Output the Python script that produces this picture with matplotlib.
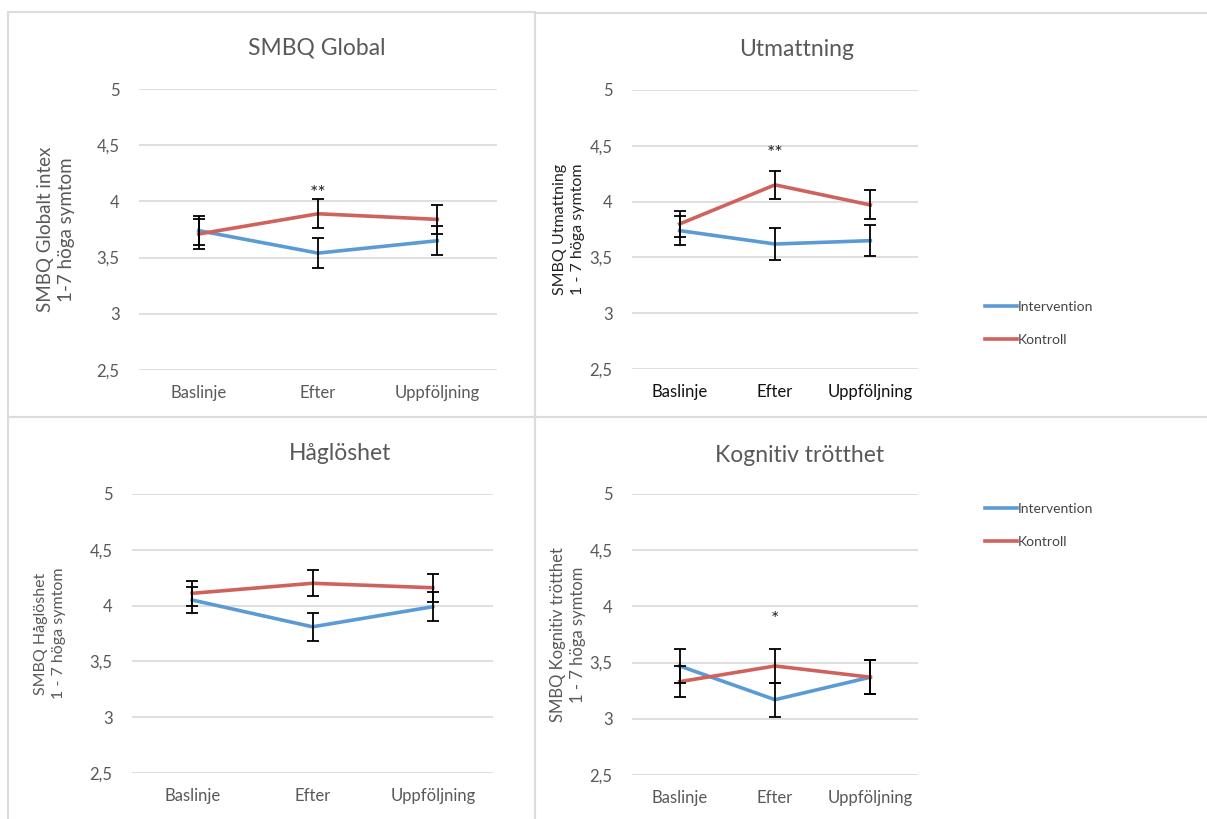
"""
SMBQ panels: intervention vs kontroll over three time points
"""
import matplotlib.pyplot as plt
from matplotlib.lines import Line2D
from matplotlib.patches import Rectangle

plt.rcParams['font.family'] = ['Lato', 'DejaVu Sans']

categories = ['Baslinje', 'Efter', 'Uppföljning']
yticks = [2.5, 3, 3.5, 4, 4.5, 5]
ytick_labels = ['2,5', '3', '3,5', '4', '4,5', '5']

titles = ['SMBQ Global', 'Utmattning', 'Håglöshet', 'Kognitiv trötthet']
ylabels = ['SMBQ Globalt intex\n1-7 höga symtom',
           'SMBQ Utmattning\n1 - 7 höga symtom',
           'SMBQ Håglöshet\n1 - 7 höga symtom',
           'SMBQ Kognitiv trötthet\n1 - 7 höga symtom']

intervention = [[3.74, 3.54, 3.65],
                [3.74, 3.62, 3.65],
                [4.05, 3.81, 3.99],
                [3.47, 3.17, 3.37]]
intervention_err = [[0.13, 0.135, 0.13],
                    [0.13, 0.14, 0.14],
                    [0.115, 0.125, 0.13],
                    [0.15, 0.15, 0.15]]
kontroll = [[3.71, 3.89, 3.84],
            [3.80, 4.15, 3.97],
            [4.11, 4.20, 4.16],
            [3.33, 3.47, 3.37]]
kontroll_err = [[0.13, 0.13, 0.13],
                [0.12, 0.125, 0.13],
                [0.11, 0.115, 0.125],
                [0.14, 0.15, 0.15]]

# significance marks: (text, x index, y value)
stars = [('**', 1, 4.07), ('**', 1, 4.43), None, ('*', 1, 3.88)]

BLUE = '#5b9bd5'
RED = '#d0625d'
GRAY = '#595959'
GRID = '#d9d9d9'

W, H = 1207, 819
fig = plt.figure(figsize=(W / 100, H / 100), dpi=100)


def frac(x0, y0, x1, y1):
    # pixel box -> figure fraction rect
    return [x0 / W, 1 - y1 / H, (x1 - x0) / W, (y1 - y0) / H]


# panel frames
for (x0, y0, x1, y1) in [(8, 12, 535, 417), (535, 13, 1210, 417),
                         (8, 417, 535, 822), (535, 417, 1210, 822)]:
    fig.patches.append(Rectangle((x0 / W, 1 - y1 / H), (x1 - x0) / W, (y1 - y0) / H,
                                 transform=fig.transFigure, fill=False,
                                 edgecolor='#dcdcdc', linewidth=1.5))

axes_px = [(139, 89, 497, 370), (632, 90, 918, 369),
           (132, 494, 493, 773), (632, 494, 918, 775)]
title_px = [(317, 48), (797, 50), (340, 454), (800, 455)]
ylabel_x = [56, 569, 50, 568]
ylabel_color = [GRAY, '#222222', GRAY, GRAY]
ylabel_size = [13.5, 11.5, 11.5, 12]
xlabel_color = [GRAY, '#111111', GRAY, GRAY]

for i in range(4):
    ax = fig.add_axes(frac(*axes_px[i]))
    x = [1, 2, 3]
    ax.errorbar(x, kontroll[i], yerr=kontroll_err[i], fmt='none', ecolor='black',
                elinewidth=1.3, capsize=4.5, capthick=1.3, zorder=4)
    ax.errorbar(x, intervention[i], yerr=intervention_err[i], fmt='none', ecolor='black',
                elinewidth=1.3, capsize=4.5, capthick=1.3, zorder=4)
    ax.plot(x, intervention[i], color=BLUE, linewidth=2.6, zorder=3, label='Intervention')
    ax.plot(x, kontroll[i], color=RED, linewidth=2.6, zorder=3, label='Kontroll')
    if stars[i] is not None:
        s, xi, yv = stars[i]
        ax.text(x[xi], yv, s, ha='center', va='center', fontsize=14, color='#222222')

    ax.set_xlim(0.5, 3.5)
    ax.set_ylim(2.5, 5)
    ax.set_yticks(yticks)
    ax.set_yticklabels(ytick_labels)
    ax.set_xticks(x)
    ax.set_xticklabels(categories)
    ax.tick_params(axis='y', length=0, pad=14, labelsize=12, labelcolor=GRAY)
    ax.tick_params(axis='x', length=0, pad=11, labelsize=12, labelcolor=xlabel_color[i])
    ax.grid(True, axis='y', color=GRID, linewidth=1.2)
    ax.set_axisbelow(True)
    for sp in ax.spines.values():
        sp.set_visible(False)

    tx, ty = title_px[i]
    fig.text(tx / W, 1 - ty / H, titles[i], ha='center', va='center',
             fontsize=16.5, color=GRAY)
    cy = (axes_px[i][1] + axes_px[i][3]) / 2
    fig.text(ylabel_x[i] / W, 1 - cy / H, ylabels[i], rotation=90, ha='center',
             va='center', fontsize=ylabel_size[i], color=ylabel_color[i],
             multialignment='center', linespacing=1.3)

    if i in (1, 3):
        ly = 306 if i == 1 else 508
        handles = [Line2D([], [], color=BLUE, linewidth=2.6),
                   Line2D([], [], color=RED, linewidth=2.6)]
        fig.legend(handles, ['Intervention', 'Kontroll'], loc='upper left',
                   bbox_to_anchor=(978 / W, 1 - (ly - 12) / H), frameon=False,
                   fontsize=10, handlelength=2.3, handletextpad=0.05,
                   labelspacing=1.5, labelcolor='#444444', borderpad=0)

fig.savefig('out.png', dpi=100)
